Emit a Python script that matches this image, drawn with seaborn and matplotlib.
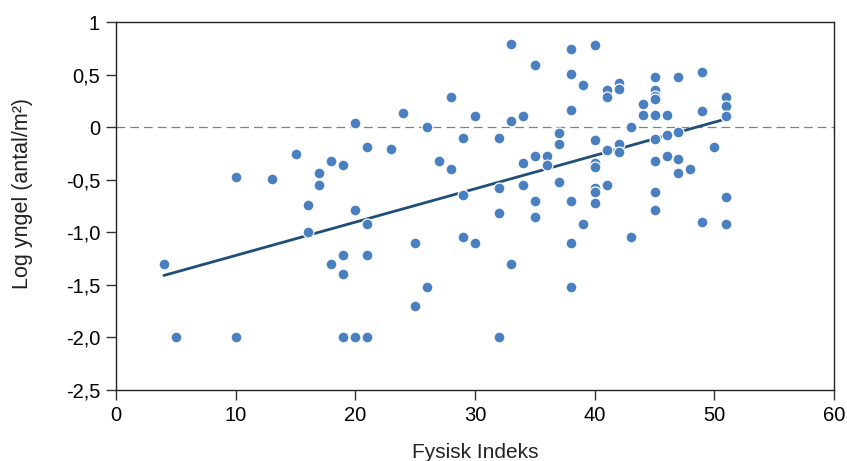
import matplotlib
matplotlib.use("Agg")
import matplotlib.pyplot as plt
import seaborn as sns
import numpy as np
import pandas as pd

# Data
fysisk_indeks = [
    4, 5, 10, 10, 13, 15, 16, 16, 17, 17, 18, 18,
    19, 19, 19, 19, 20, 20, 20, 21, 21, 21, 21,
    23, 24, 25, 25, 26, 26, 27, 28, 28, 29, 29, 29, 30, 30,
    32, 32, 32, 32, 33, 33, 33, 34, 34, 34, 35, 35, 35, 35,
    36, 36, 37, 37, 37, 38, 38, 38, 38, 38, 38, 39, 39,
    40, 40, 40, 40, 40, 40, 40, 41, 41, 41, 41, 42, 42, 42, 42,
    43, 43, 44, 44, 45, 45, 45, 45, 45, 45, 45, 45, 45,
    46, 46, 46, 47, 47, 47, 47, 48, 49, 49, 49, 50,
    51, 51, 51, 51, 51,
]
log_yngel = [
    -1.30, -2.00, -0.47, -2.00, -0.49, -0.25, -0.74, -1.00, -0.44, -0.55, -0.32, -1.30,
    -0.355, -1.22, -1.40, -2.00, 0.04, -0.79, -2.00, -0.19, -0.92, -1.22, -2.00,
    -0.21, 0.14, -1.10, -1.70, 0.00, -1.52, -0.32, 0.29, -0.40, -0.10, -0.64, -1.04, 0.11, -1.10,
    -0.10, -0.58, -0.82, -2.00, 0.79, 0.06, -1.30, 0.11, -0.34, -0.55, 0.59, -0.27, -0.70, -0.85,
    -0.27, -0.36, -0.055, -0.155, -0.52, 0.74, 0.51, 0.165, -0.70, -1.10, -1.52, 0.40, -0.92,
    0.78, -0.12, -0.34, -0.38, -0.58, -0.62, -0.72, 0.35, 0.29, -0.22, -0.55, 0.42, 0.36, -0.155, -0.24,
    0.00, -1.04, 0.22, 0.12, 0.48, 0.35, 0.30, 0.27, 0.12, -0.11, -0.32, -0.62, -0.79,
    0.12, -0.07, -0.27, 0.48, -0.05, -0.30, -0.44, -0.40, 0.53, 0.155, -0.90, -0.19,
    0.29, 0.20, 0.11, -0.66, -0.92,
]

# Trend line as drawn in the reference (end points)
trend_x = [4, 51]
trend_y = [-1.41, 0.08]

x_ticks = [0, 10, 20, 30, 40, 50, 60]
y_ticks = [1, 0.5, 0, -0.5, -1.0, -1.5, -2.0, -2.5]
y_tick_labels = ["1", "0,5", "0", "-0,5", "-1,0", "-1,5", "-2,0", "-2,5"]

df = pd.DataFrame({"Fysisk Indeks": fysisk_indeks, "Log yngel": log_yngel})
trend = pd.DataFrame({"x": trend_x, "y": trend_y})

sns.set_theme(style="white")
plt.rcParams["font.family"] = ["Liberation Sans", "DejaVu Sans"]

fig = plt.figure(figsize=(8.47, 4.61), dpi=100)
ax = fig.add_axes([0.137, 0.154, 0.8477, 0.798])

ax.axhline(0, color="#808080", lw=0.9, ls=(0, (7, 4)), zorder=1)

sns.scatterplot(data=df, x="Fysisk Indeks", y="Log yngel", ax=ax,
                color="#4a7fc0", edgecolor="white", linewidth=0.9, s=62, zorder=3)
sns.lineplot(data=trend, x="x", y="y", ax=ax, color="#1f4e79", lw=2.0, zorder=2)

ax.set_xlim(0, 60)
ax.set_ylim(-2.5, 1)
ax.set_xticks(x_ticks)
ax.set_yticks(y_ticks)
ax.set_yticklabels(y_tick_labels)
ax.tick_params(axis="both", direction="out", length=7.5, width=1, color="#333333",
               labelsize=14.5, labelcolor="black", bottom=True, left=True, pad=4)
for sp in ax.spines.values():
    sp.set_color("#222222")
    sp.set_linewidth(1.0)
ax.set_xlabel("Fysisk Indeks", fontsize=15, color="#222222")
ax.set_ylabel("Log yngel (antal/m²)", fontsize=15.5, color="#222222")
ax.xaxis.set_label_coords(0.5, -0.143)
ax.yaxis.set_label_coords(-0.130, 0.534)
ax.yaxis.label.set_verticalalignment("center")

fig.savefig("out.png", dpi=100)
